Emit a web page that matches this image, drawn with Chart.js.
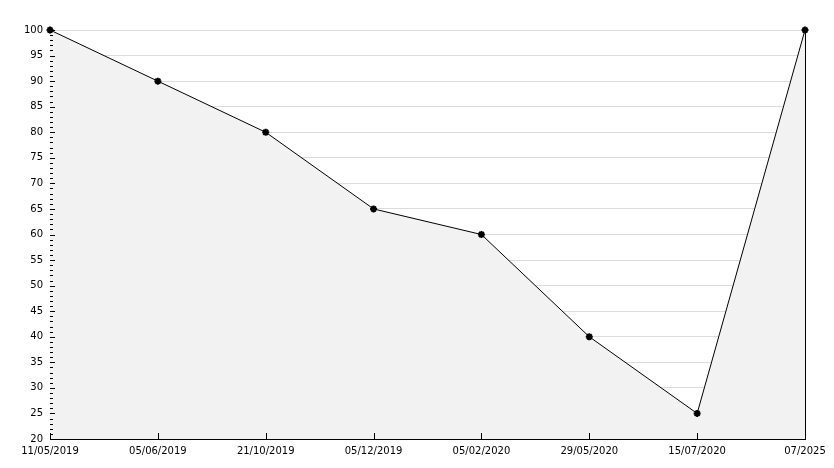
<!DOCTYPE html>
<html>
<head>
<meta charset="utf-8">
<script src="https://cdn.jsdelivr.net/npm/chart.js@4/dist/chart.umd.min.js"></script>
<style>
  html, body { margin: 0; padding: 0; background: #fff; }
  #wrap { width: 834px; height: 468px; }
</style>
</head>
<body>
<div id="wrap"><canvas id="chart" width="834" height="468"></canvas></div>
<script>
// data
const dates = ['11/05/2019', '05/06/2019', '21/10/2019', '05/12/2019', '05/02/2020', '29/05/2020', '15/07/2020', '07/2025'];
const values = [100, 90, 80, 65, 60, 40, 25, 100];
const yMin = 20;
const yMax = 100;
const yStep = 5;

// axis ticks (inside) + right frame line
const axisTicks = {
  id: 'axisTicks',
  afterDatasetsDraw(chart) {
    const { ctx, chartArea, scales } = chart;
    const x = scales.x, y = scales.y;
    ctx.save();
    ctx.strokeStyle = '#000';
    ctx.lineWidth = 1;
    ctx.beginPath();
    // y minor / major ticks
    for (let v = yMin; v <= yMax; v++) {
      const py = Math.round(y.getPixelForValue(v)) + 0.5;
      const len = v % yStep === 0 ? 5 : 3;
      ctx.moveTo(chartArea.left, py);
      ctx.lineTo(chartArea.left + len, py);
    }
    // x ticks
    dates.forEach((d, i) => {
      const px = Math.round(x.getPixelForValue(i)) + 0.5;
      ctx.moveTo(px, chartArea.bottom);
      ctx.lineTo(px, chartArea.bottom - 6);
    });
    // right frame
    const rx = Math.round(chartArea.right) + 0.5;
    ctx.moveTo(rx, chartArea.top);
    ctx.lineTo(rx, chartArea.bottom);
    ctx.stroke();
    ctx.restore();
  }
};

new Chart(document.getElementById('chart'), {
  type: 'line',
  data: {
    labels: dates,
    datasets: [{
      data: values,
      borderColor: '#000',
      borderWidth: 1,
      backgroundColor: '#f2f2f2',
      fill: 'start',
      tension: 0,
      clip: false,
      pointStyle: 'star',
      pointRadius: 3.5,
      pointBorderWidth: 2,
      pointBorderColor: '#000',
      pointBackgroundColor: '#000'
    }]
  },
  options: {
    responsive: false,
    animation: false,
    devicePixelRatio: 1,
    layout: { padding: { top: 30, right: 29, left: 0, bottom: 0 } },
    plugins: {
      legend: { display: false },
      tooltip: { enabled: false }
    },
    scales: {
      x: {
        offset: false,
        grid: { display: false, drawTicks: false },
        border: { display: true, color: '#000', width: 1 },
        ticks: {
          color: '#000',
          font: { family: 'DejaVu Sans', size: 10 },
          padding: 6,
          maxRotation: 0,
          autoSkip: false
        },
        afterFit(scale) { scale.height = 29; }
      },
      y: {
        min: yMin,
        max: yMax,
        grid: { color: '#dcdcdc', drawTicks: false },
        border: { display: true, color: '#000', width: 1 },
        ticks: {
          stepSize: yStep,
          color: '#000',
          font: { family: 'DejaVu Sans', size: 10 },
          padding: 7
        },
        afterFit(scale) { scale.width = 50; }
      }
    }
  },
  plugins: [axisTicks]
});
</script>
</body>
</html>
